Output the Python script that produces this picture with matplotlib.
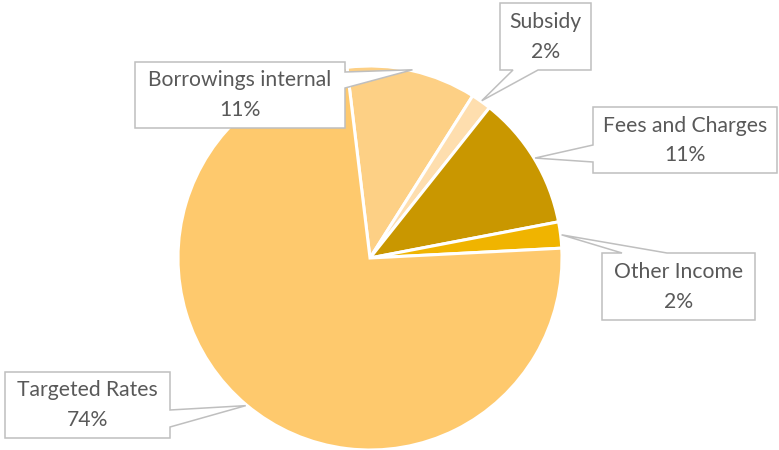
import matplotlib.pyplot as plt
from matplotlib.patches import Polygon
import numpy as np

# revenue sources, in drawing order (clockwise from the top-left)
labels = ["Borrowings internal", "Subsidy", "Fees and Charges", "Other Income", "Targeted Rates"]
shares = [10.9, 1.7, 11.3, 2.2, 73.9]
colors = ["#FDD085", "#FEDEAE", "#C99700", "#F0B400", "#FEC96D"]

# callout boxes in pixel coords (x0, y0, x1, y1 from top-left), side of the pointer, pointer base
callouts = {
    "Borrowings internal": ((135, 62, 345, 128), "right", (72, 88)),
    "Subsidy": ((500, 3, 591, 70), "bottom", (513, 538)),
    "Fees and Charges": ((593, 107, 777, 173), "left", (145, 162)),
    "Other Income": ((602, 253, 755, 320), "top", (622, 667)),
    "Targeted Rates": ((5, 372, 170, 438), "right", (410, 427)),
}

W, H = 779, 450
fig = plt.figure(figsize=(W / 100, H / 100), dpi=100)
ax = fig.add_axes([0, 0, 1, 1])

cx, cy, r = 370, H - 258, 192
wedges, _ = ax.pie(shares, colors=colors, startangle=96.9, counterclock=False,
                   center=(cx, cy), radius=r, frame=True,
                   wedgeprops=dict(edgecolor="white", linewidth=2.2))
ax.set_xlim(0, W)
ax.set_ylim(0, H)
ax.set_aspect("equal")
ax.axis("off")


def callout_path(box, side, base, tip):
    x0, y0, x1, y1 = box
    b1, b2 = base
    pts = [(x0, y0)]
    if side == "top":
        pts += [(b1, y0), tip, (b2, y0)]
    pts.append((x1, y0))
    if side == "right":
        pts += [(x1, b1), tip, (x1, b2)]
    pts.append((x1, y1))
    if side == "bottom":
        pts += [(b2, y1), tip, (b1, y1)]
    pts.append((x0, y1))
    if side == "left":
        pts += [(x0, b2), tip, (x0, b1)]
    return [(x, H - y) for x, y in pts]


for w, name, val in zip(wedges, labels, shares):
    mid = np.deg2rad((w.theta1 + w.theta2) / 2)
    tx = cx + r * 1.005 * np.cos(mid)
    ty = H - (cy + r * 1.005 * np.sin(mid))
    box, side, base = callouts[name]
    poly = Polygon(callout_path(box, side, base, (tx, ty)), closed=True,
                   facecolor="white", edgecolor="#BFBFBF", linewidth=1.1, zorder=3)
    ax.add_patch(poly)
    bx = (box[0] + box[2]) / 2
    by = H - (box[1] + box[3]) / 2
    kw = dict(ha="center", va="center", fontsize=15.2, color="#595959",
              family=["Lato", "DejaVu Sans"], zorder=4)
    ax.text(bx, by + 14.5, name, **kw)
    ax.text(bx, by - 15, f"{round(val)}%", **kw)

fig.savefig("out.png", dpi=100)
